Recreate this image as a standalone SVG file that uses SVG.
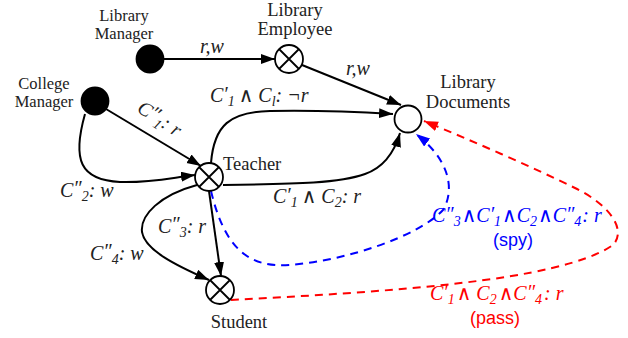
<svg xmlns="http://www.w3.org/2000/svg" width="628" height="338" viewBox="0 0 628 338">
<style>
.lbl{font-family:"Liberation Serif","DejaVu Serif",serif;font-size:18.5px;fill:#222;text-anchor:middle}
.sm{font-size:16.5px}
.m{font-family:"Liberation Serif","DejaVu Serif",serif;font-style:italic;font-size:20px;fill:#222}
.sub{font-size:14px}
.sans{font-family:"Liberation Sans",Arial,sans-serif;font-size:18px;text-anchor:middle}
.e{fill:none;stroke:#000;stroke-width:2}
.node{stroke:#000;stroke-width:1.8}
.blue{fill:none;stroke:#0000ff;stroke-width:2;stroke-dasharray:8,6}
.red{fill:none;stroke:#ff0000;stroke-width:2;stroke-dasharray:8,6}
</style>
<defs>
<marker id="ab" markerUnits="userSpaceOnUse" markerWidth="15" markerHeight="11" refX="14" refY="5" orient="auto"><path d="M0,0 L14,5 L0,10 z" fill="#000"/></marker>
<marker id="abl" markerUnits="userSpaceOnUse" markerWidth="15" markerHeight="11" refX="14" refY="5" orient="auto"><path d="M0,0 L14,5 L0,10 z" fill="#0000ff"/></marker>
<marker id="ar" markerUnits="userSpaceOnUse" markerWidth="15" markerHeight="11" refX="14" refY="5" orient="auto"><path d="M0,0 L14,5 L0,10 z" fill="#ff0000"/></marker>
</defs>
<rect width="628" height="338" fill="#fff"/>
<g id="connectors">
<path class="e" d="M164,59 L275,59" marker-end="url(#ab)"/>
<path class="e" d="M302,65 L401,105" marker-end="url(#ab)"/>
<path class="e" d="M106,109 L201,166" marker-end="url(#ab)"/>
<path class="e" d="M85,114 C72,160 80,180 120,182 C150,183 170,178 195,175" marker-end="url(#ab)"/>
<path class="e" d="M211,163 C214,125 230,112 270,111 C320,110 360,112 393,114" marker-end="url(#ab)"/>
<path class="e" d="M223,185 C300,184 340,183 365,174 C385,167 395,150 400,133" marker-end="url(#ab)"/>
<path class="e" d="M209,191 L221,276" marker-end="url(#ab)"/>
<path class="e" d="M197,185 C160,195 140,215 142,232 C145,250 175,265 209,280" marker-end="url(#ab)"/>
<path class="blue" d="M211,191 C225,250 250,268 290,265 C350,260 420,235 443,210 C455,190 450,160 416,134" marker-end="url(#abl)"/>
<path class="red" d="M231,300 C380,292 560,282 613,245 C627,230 610,205 575,188 C530,166 470,140 424,121" marker-end="url(#ar)"/>
<text class="m" x="212" y="53" text-anchor="middle">r,w</text>
<text class="m" x="358" y="75" text-anchor="middle">r,w</text>
<text class="m" x="210" y="102">C<tspan dy="-1">′</tspan><tspan class="sub" dy="5">1</tspan><tspan dx="4" dy="-4">∧ C</tspan><tspan class="sub" dy="4">l</tspan><tspan dy="-4">: ¬r</tspan></text>
<text class="m" x="273" y="203">C<tspan dy="-1">′</tspan><tspan class="sub" dy="5">1</tspan><tspan dx="4" dy="-4">∧ C</tspan><tspan class="sub" dy="4">2</tspan><tspan dy="-4">: r</tspan></text>
<text class="m" transform="translate(136,111) rotate(33)">C<tspan dy="-2">″</tspan><tspan class="sub" dy="6">1</tspan><tspan dy="-4">: r</tspan></text>
<text class="m" x="60" y="197">C<tspan dy="-2">″</tspan><tspan class="sub" dy="6">2</tspan><tspan dy="-4">: w</tspan></text>
<text class="m" x="158" y="233">C<tspan dy="-2">″</tspan><tspan class="sub" dy="6">3</tspan><tspan dy="-4">: r</tspan></text>
<text class="m" x="90" y="260">C<tspan dy="-2">″</tspan><tspan class="sub" dy="6">4</tspan><tspan dy="-4">: w</tspan></text>
<text class="m" x="432" y="222" style="fill:#0000ff">C<tspan dy="-1">″</tspan><tspan class="sub" dy="5">3</tspan><tspan dx="1" dy="-4">∧C</tspan><tspan dy="-1">′</tspan><tspan class="sub" dy="5">1</tspan><tspan dx="1" dy="-4">∧C</tspan><tspan class="sub" dy="4">2</tspan><tspan dx="1" dy="-4">∧C</tspan><tspan dy="-1">″</tspan><tspan class="sub" dy="5">4</tspan><tspan dx="1" dy="-4">: r</tspan></text>
<text class="sans" x="513" y="246" fill="#0000ff">(spy)</text>
<text class="m" x="430" y="300" style="fill:#ff0000">C<tspan dy="-1">′</tspan><tspan class="sub" dy="5">1</tspan><tspan dx="2" dy="-4">∧ C</tspan><tspan class="sub" dy="4">2</tspan><tspan dx="2" dy="-4">∧C</tspan><tspan dy="-1">″</tspan><tspan class="sub" dy="5">4</tspan><tspan dx="2" dy="-4">: r</tspan></text>
<text class="sans" x="495" y="324" fill="#ff0000">(pass)</text>
</g>
<g id="library-manager">
<circle class="node" cx="150" cy="59" r="13.5" fill="#000"/>
<text class="lbl sm" x="124" y="21">Library</text>
<text class="lbl sm" x="124" y="39">Manager</text>
</g>
<g id="library-employee">
<circle class="node" cx="289" cy="59" r="14" fill="#fff"/>
<path class="node" d="M279,49 L299,69 M299,49 L279,69"/>
<text class="lbl" x="295" y="16">Library</text>
<text class="lbl" x="295" y="35">Employee</text>
</g>
<g id="college-manager">
<circle class="node" cx="95" cy="101" r="13.5" fill="#000"/>
<text class="lbl sm" x="44" y="89">College</text>
<text class="lbl sm" x="44" y="107">Manager</text>
</g>
<g id="library-documents">
<circle class="node" cx="408" cy="119" r="13.5" fill="#fff"/>
<text class="lbl" x="468" y="88">Library</text>
<text class="lbl" x="468" y="108">Documents</text>
</g>
<g id="teacher">
<circle class="node" cx="209" cy="177" r="14" fill="#fff"/>
<path class="node" d="M199,167 L219,187 M219,167 L199,187"/>
<text class="lbl" x="223" y="170" style="text-anchor:start">Teacher</text>
</g>
<g id="student">
<circle class="node" cx="220" cy="290" r="14" fill="#fff"/>
<path class="node" d="M210,280 L230,300 M230,280 L210,300"/>
<text class="lbl" x="239" y="328">Student</text>
</g>
</svg>
